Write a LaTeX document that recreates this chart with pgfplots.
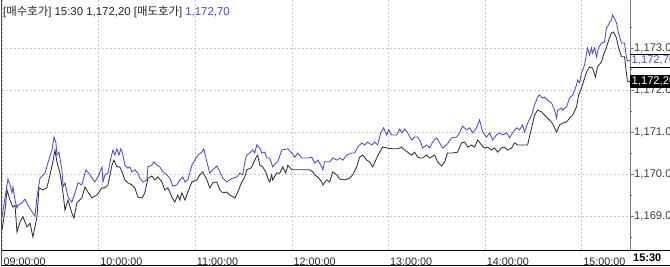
\documentclass[border=0pt]{standalone}
\usepackage{fontspec}
\setmainfont{Liberation Sans}
\newfontfamily\kr{Noto Sans CJK KR}
\usepackage{pgfplots}
\pgfplotsset{compat=1.18}
\definecolor{askblue}{RGB}{75,75,225}
\definecolor{bidgray}{RGB}{50,50,50}
\definecolor{gridc}{RGB}{200,200,200}
\definecolor{axisc}{RGB}{120,120,120}

\begin{document}
\begin{tikzpicture}[x=1pt,y=1pt]
\clip (0,0) rectangle (670,266);
\fill[white] (0,0) rectangle (670,266);
\begin{axis}[at={(2pt,16pt)}, anchor=south west, scale only axis,
  width=628pt, height=250pt,
  xmin=0, xmax=390, ymin=1168.1905, ymax=1174.1429,
  axis line style={draw=none},
  xtick={0,60,...,360},
  xticklabels={09:00:00,10:00:00,11:00:00,12:00:00,13:00:00,14:00:00,15:00:00},
  ytick={1169,1170,1171,1172,1173},
  yticklabels={{1,169.0},{1,170.0},{1,171.0},{1,172.0},{1,173.0}},
  minor ytick={1168.5,1169.5,1170.5,1171.5,1172.5,1173.5},
  xmajorgrids, ymajorgrids,
  grid style={gridc, dash pattern=on 2pt off 2pt, line width=0.6pt},
  minor grid style={draw=none},
  xtick style={draw=none},
  ytick pos=right, tick align=outside,
  major tick length=4pt, minor tick length=2pt,
  ytick style={axisc, line width=0.6pt},
  yticklabel pos=right,
  yticklabel style={font=\fontsize{11.2}{13}\selectfont, anchor=west, inner sep=0pt, xshift=0pt, text=black!75},
  xticklabel style={font=\fontsize{10.8}{12}\selectfont, anchor=west, inner sep=0pt, yshift=-7.5pt, xshift=1.5pt, text=black!85},
  clip=true,
]
\addplot[askblue, line width=0.85pt] coordinates {
(0,1168.98) (1.9,1169.45) (3.7,1169.88) (5.0,1169.74) (6.2,1169.55) (6.8,1169.69) (8.1,1169.38) (9.3,1169.19) (9.9,1169.26) (12.4,1169.31) (14.3,1169.40) (16.1,1169.26) (18.6,1169.10) (19.2,1169.07) (20.5,1169.00) (21.7,1169.45) (23.6,1169.90) (26.7,1170.02) (28.5,1170.26) (31.0,1170.57) (32.3,1170.88) (33.5,1170.74) (34.1,1170.45) (35.4,1170.52) (37.2,1170.10) (37.9,1169.69) (39.1,1169.79) (41.0,1169.45) (43.4,1169.33) (45.3,1169.55) (47.2,1169.79) (49.6,1169.74) (52.1,1170.10) (54.6,1169.98) (57.7,1169.81) (59.6,1169.93) (62.1,1170.17) (62.7,1169.81) (63.9,1169.98) (65.8,1170.02) (67.6,1170.38) (68.9,1170.57) (70.1,1170.45) (71.4,1170.60) (72.6,1170.45) (73.8,1170.60) (75.1,1170.45) (76.3,1170.21) (78.2,1170.14) (79.4,1170.17) (80.7,1170.05) (82.5,1170.10) (84.4,1170.02) (85.6,1169.90) (87.5,1169.81) (90.0,1169.86) (90.6,1170.17) (93.1,1170.21) (94.3,1170.29) (96.2,1170.21) (98.0,1170.17) (99.9,1170.05) (102.4,1169.98) (104.2,1169.90) (106.1,1169.71) (108.6,1169.74) (110.4,1169.86) (112.3,1169.93) (113.6,1169.81) (115.4,1169.86) (117.9,1170.21) (119.8,1170.33) (121.6,1170.45) (124.1,1170.52) (125.3,1170.60) (127.2,1170.29) (129.1,1170.02) (130.9,1170.10) (133.4,1170.19) (135.3,1170.05) (137.1,1169.90) (139.6,1169.81) (141.5,1169.86) (143.3,1169.90) (145.8,1169.93) (147.7,1170.02) (149.5,1169.98) (150.8,1170.29) (152.0,1170.45) (153.9,1170.50) (155.7,1170.57) (157.0,1170.50) (158.2,1170.69) (160.1,1170.62) (161.3,1170.50) (163.2,1170.52) (164.4,1170.38) (166.3,1170.38) (168.1,1170.17) (170.0,1170.26) (171.3,1170.29) (173.7,1170.57) (177.5,1170.60) (179.9,1170.50) (181.8,1170.40) (183.7,1170.50) (186.2,1170.38) (189.9,1170.38) (192.4,1170.40) (194.2,1170.26) (196.1,1170.33) (198.6,1170.17) (199.2,1170.10) (200.4,1170.29) (203.5,1170.29) (205.4,1170.38) (207.9,1170.33) (209.7,1170.38) (211.6,1170.33) (214.1,1170.45) (217.2,1170.50) (219.0,1170.50) (220.9,1170.64) (223.4,1170.74) (225.2,1170.69) (227.1,1170.76) (229.6,1170.69) (231.4,1170.76) (233.3,1170.69) (235.2,1170.98) (237.0,1171.10) (238.9,1170.93) (240.1,1171.05) (242.0,1170.93) (245.1,1170.93) (247.0,1171.07) (248.2,1170.98) (250.1,1171.07) (251.9,1170.98) (254.4,1170.81) (256.3,1170.88) (258.1,1170.88) (259.4,1170.81) (261.2,1170.62) (263.7,1170.69) (265.6,1170.62) (267.4,1170.76) (269.9,1170.86) (271.8,1170.74) (273.6,1170.62) (276.1,1170.69) (279.2,1170.86) (282.3,1170.88) (284.2,1170.98) (286.0,1171.14) (288.5,1171.05) (290.4,1171.10) (292.3,1170.98) (294.7,1171.10) (296.6,1171.29) (298.5,1171.00) (300.9,1170.88) (302.8,1170.98) (304.7,1170.81) (307.1,1170.93) (309.0,1170.98) (310.9,1170.93) (313.4,1170.98) (315.2,1170.86) (317.1,1170.98) (319.6,1171.10) (321.4,1171.05) (323.3,1171.17) (324.5,1171.00) (326.4,1171.21) (328.9,1171.40) (330.7,1171.64) (332.6,1171.83) (333.8,1171.88) (335.7,1171.81) (337.0,1171.83) (338.8,1171.76) (341.3,1171.69) (343.2,1171.52) (344.4,1171.33) (345.0,1171.52) (347.5,1171.57) (348.1,1171.52) (350.6,1171.60) (352.5,1171.81) (354.4,1171.88) (356.8,1172.12) (357.5,1172.24) (358.7,1172.17) (359.9,1172.40) (361.8,1172.60) (363.6,1173.00) (364.9,1172.83) (366.1,1173.00) (366.7,1172.88) (368.0,1173.00) (369.2,1172.79) (370.4,1173.00) (372.3,1173.12) (374.1,1173.14) (375.4,1173.48) (376.0,1173.50) (377.2,1173.60) (378.5,1173.67) (379.1,1173.79) (380.3,1173.71) (381.6,1173.60) (382.8,1173.36) (384.7,1173.12) (386.6,1173.12) (387.8,1172.76) (388.4,1172.70) (390,1172.70)
};
\addplot[bidgray, line width=0.85pt] coordinates {
(0,1168.67) (1.9,1169.14) (3.1,1169.62) (5.0,1169.38) (6.8,1169.21) (8.1,1169.26) (9.3,1168.62) (11.2,1168.86) (13.0,1168.98) (15.5,1168.74) (17.4,1168.83) (19.2,1168.50) (21.7,1168.98) (23.0,1169.67) (25.4,1169.62) (27.9,1169.67) (29.8,1169.98) (31.6,1170.29) (32.9,1170.57) (34.1,1170.29) (36.0,1170.02) (37.9,1169.55) (39.1,1169.14) (41.0,1169.38) (43.4,1169.07) (44.7,1168.95) (46.5,1169.31) (49.6,1169.43) (51.5,1169.69) (53.4,1169.57) (55.8,1169.43) (58.9,1169.50) (62.1,1169.67) (63.9,1169.67) (65.8,1169.74) (68.3,1170.21) (69.5,1170.33) (71.4,1170.17) (73.2,1170.17) (74.5,1170.05) (76.3,1169.86) (78.2,1169.79) (80.7,1169.74) (82.5,1169.67) (84.4,1169.45) (86.9,1169.43) (88.7,1169.55) (90.6,1169.90) (93.1,1169.95) (94.9,1169.86) (96.8,1169.93) (99.3,1169.81) (101.1,1169.62) (103.0,1169.67) (105.5,1169.45) (107.3,1169.33) (109.2,1169.50) (110.4,1169.38) (111.7,1169.55) (113.6,1169.38) (115.4,1169.57) (117.9,1169.81) (121.0,1169.86) (122.9,1169.98) (124.7,1170.05) (127.2,1169.86) (129.1,1169.67) (130.9,1169.79) (133.4,1169.81) (135.3,1169.62) (137.1,1169.55) (139.6,1169.57) (141.5,1169.50) (144.6,1169.43) (146.4,1169.57) (148.9,1169.81) (150.8,1169.93) (152.0,1170.10) (154.5,1170.14) (155.7,1170.21) (157.6,1170.38) (158.8,1170.45) (160.1,1170.21) (161.9,1170.17) (163.8,1170.05) (165.0,1169.90) (166.3,1169.81) (167.5,1169.98) (168.1,1169.86) (170.6,1170.02) (172.5,1170.02) (174.4,1170.17) (176.2,1170.02) (177.5,1170.21) (179.9,1170.10) (191.1,1170.10) (193.0,1170.05) (194.2,1169.98) (196.1,1169.93) (198.6,1169.81) (199.2,1169.74) (201.7,1169.86) (203.5,1169.81) (205.4,1170.05) (207.9,1169.98) (209.7,1169.88) (212.8,1169.86) (215.9,1169.90) (217.8,1169.98) (220.3,1170.17) (222.1,1170.40) (224.0,1170.45) (226.5,1170.33) (228.3,1170.29) (230.2,1170.17) (232.7,1170.38) (234.5,1170.52) (236.4,1170.64) (238.9,1170.62) (242.6,1170.60) (245.7,1170.60) (248.2,1170.64) (250.1,1170.57) (251.9,1170.52) (254.4,1170.45) (256.3,1170.52) (258.1,1170.40) (260.0,1170.38) (261.2,1170.38) (263.7,1170.45) (265.6,1170.38) (268.7,1170.45) (270.5,1170.29) (273.0,1170.19) (274.9,1170.29) (276.7,1170.50) (279.8,1170.50) (282.9,1170.52) (285.4,1170.74) (287.3,1170.76) (289.2,1170.64) (291.6,1170.69) (293.5,1170.64) (295.4,1170.81) (297.8,1170.69) (299.7,1170.62) (301.6,1170.64) (304.0,1170.57) (305.9,1170.62) (307.8,1170.52) (310.2,1170.62) (312.1,1170.64) (314.0,1170.57) (316.5,1170.62) (318.3,1170.74) (320.2,1170.69) (326.4,1170.69) (328.9,1171.10) (330.7,1171.40) (332.6,1171.52) (335.1,1171.48) (337.0,1171.40) (338.8,1171.33) (341.3,1171.24) (344.4,1171.00) (346.3,1171.17) (348.1,1171.21) (350.6,1171.24) (352.5,1171.33) (354.4,1171.40) (356.8,1171.60) (358.1,1171.88) (359.9,1172.05) (363.0,1172.43) (364.9,1172.55) (366.7,1172.52) (368.6,1172.31) (369.8,1172.55) (372.3,1172.67) (373.5,1172.83) (375.4,1173.02) (377.2,1173.24) (378.5,1173.36) (379.7,1173.38) (381.6,1173.24) (382.8,1173.02) (384.7,1172.79) (386.6,1172.79) (387.8,1172.40) (388.4,1172.21) (390,1172.20)
};
\coordinate (ask) at (axis cs:390,1172.7);
\coordinate (bid) at (axis cs:390,1172.2);
\end{axis}
% frame
\draw[axisc, line width=0.8pt] (630,16) -- (630,266);
\draw[black!70, line width=0.8pt] (1.5,0) -- (1.5,266);
\draw[black, line width=1pt] (1.5,16) -- (670,16);
\draw[black, line width=1pt] (1.5,0.8) -- (670,0.8);
% current price markers
\draw[black, line width=0.7pt] ([yshift=6.5pt]ask) -- ++(40,0);
\draw[black, line width=0.7pt] ([yshift=-6.5pt]ask) -- ++(40,0);
\node[anchor=west, inner sep=0pt, font=\fontsize{11.2}{13}\selectfont, text=askblue] at ([xshift=1.5pt]ask) {1,172,70};
\fill[black] ([yshift=-6.5pt]bid) rectangle ++(40,13);
\node[anchor=west, inner sep=0pt, font=\fontsize{11.2}{13}\selectfont, text=white] at ([xshift=1.5pt]bid) {1,172,20};
% header
\node[anchor=west, inner sep=0pt, font=\fontsize{11.4}{13}\selectfont, text=black!85] at (3,254)
  {[{\kr 매수호가}] 15:30 1,172,20 [{\kr 매도호가}] \textcolor{askblue}{1,172,70}};
\node[anchor=west, inner sep=0pt, font=\fontsize{11}{13}\selectfont\bfseries] at (633,8.5) {15:30};
\end{tikzpicture}
\end{document}
